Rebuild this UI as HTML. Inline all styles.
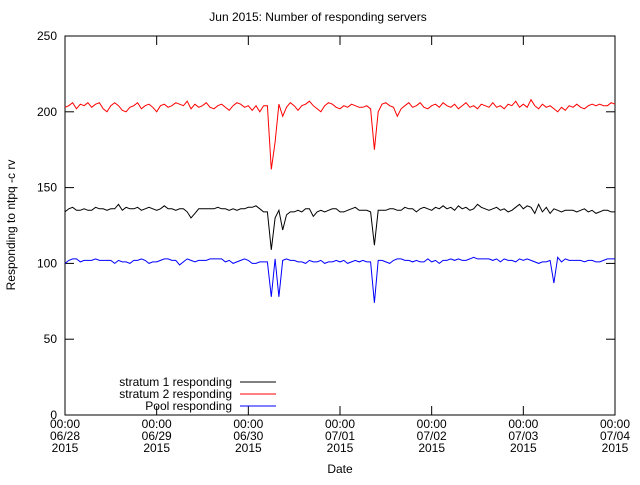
<!DOCTYPE html>
<html><head><meta charset="utf-8"><style>
body{margin:0;background:#fff}
svg text{font-family:"Liberation Sans",sans-serif;font-size:12px;fill:#000}
</style></head><body>
<svg width="640" height="480" xmlns="http://www.w3.org/2000/svg">
<g id="axes"></g>
<g id="series"></g>
<g id="legend"></g>
</svg>
<script>
const yTicks=[0,50,100,150,200,250];
const xTickLabels=[["00:00","06/28","2015"],["00:00","06/29","2015"],["00:00","06/30","2015"],["00:00","07/01","2015"],["00:00","07/02","2015"],["00:00","07/03","2015"],["00:00","07/04","2015"]];
const seriesNames=["stratum 1 responding","stratum 2 responding","Pool responding"];
const seriesColors=["#000","#f00","#00f"];
const stratum1=[134,136,137,135,135,136,135,135,137,136,136,135,136,136,139,135,137,136,136,137,135,136,137,136,
135,136,138,136,136,135,136,136,134,130,133,136,136,136,136,136,137,136,136,135,136,135,136,136,
137,137,138,136,134,134,109,130,135,122,132,134,134,135,134,136,136,131,134,135,134,135,136,136,
134,134,135,136,137,135,135,135,134,112,135,135,135,136,136,135,135,137,136,136,134,136,137,136,
135,137,136,138,136,137,135,138,136,137,135,136,139,137,136,135,136,137,135,136,134,135,137,139,
136,138,137,133,139,134,137,133,136,135,134,135,135,135,134,135,136,134,135,133,134,135,135,134,134];
const stratum2=[203,204,206,202,205,204,206,203,205,206,202,200,204,206,204,201,200,203,204,206,202,204,205,203,
200,204,205,203,204,206,205,204,207,202,205,203,204,206,203,202,204,205,203,201,204,206,205,203,
204,201,204,200,204,204,162,180,205,197,203,206,204,201,204,205,207,204,202,200,204,206,205,203,
202,204,203,205,204,203,203,204,202,175,200,205,206,204,203,197,202,204,206,203,204,206,203,202,
204,205,203,206,204,203,205,202,204,206,203,204,202,205,204,203,206,203,204,202,205,204,207,203,
205,203,208,204,202,205,203,204,202,200,203,201,204,203,205,203,202,204,205,204,205,204,204,206,205];
const pool=[100,102,103,103,101,102,102,102,103,102,102,102,102,100,102,101,101,100,102,102,103,102,100,101,
101,102,103,103,102,102,99,101,103,102,101,102,102,102,103,103,103,103,101,102,100,101,102,103,
102,100,100,101,101,101,78,103,78,102,103,102,102,101,101,100,102,101,101,102,100,101,101,102,
101,102,100,101,102,101,102,101,101,74,102,102,101,100,102,103,103,102,102,101,102,101,101,103,
101,102,100,102,102,103,102,103,102,102,103,104,103,103,103,103,102,103,101,103,102,102,101,103,
102,103,102,101,100,101,101,102,87,104,101,103,102,102,102,102,101,102,102,101,101,102,103,103,103];
const allSeries=[stratum1,stratum2,pool];

const NS="http://www.w3.org/2000/svg";
const L=65,R=615,T=36,B=415,maxH=144;
const xs=h=>L+(R-L)*h/maxH;
const ys=v=>B-(B-T)*v/250;
function mk(tag,attrs,parent,txt){const e=document.createElementNS(NS,tag);for(const k in attrs)e.setAttribute(k,attrs[k]);if(txt!==undefined)e.textContent=txt;parent.appendChild(e);return e;}
const ax=document.getElementById('axes');
let t=mk('text',{x:318,y:21,'text-anchor':'middle','font-size':'11px'},ax,'Jun 2015: Number of responding servers');


let fr=mk('rect',{x:L,y:T,width:R-L,height:B-T,fill:'none',stroke:'#000','stroke-width':1},ax);


yTicks.forEach(v=>{
  const y=ys(v);
  mk('line',{x1:L,x2:L+9,y1:y,y2:y,stroke:'#000'},ax);
  mk('line',{x1:R-9,x2:R,y1:y,y2:y,stroke:'#000'},ax);
  const tx=mk('text',{x:L-8,y:y+4,'text-anchor':'end'},ax,String(v));
  
  
});
xTickLabels.forEach((lab,i)=>{
  const x=xs(i*24);
  mk('line',{x1:x,x2:x,y1:B,y2:B-9,stroke:'#000'},ax);
  mk('line',{x1:x,x2:x,y1:T,y2:T+9,stroke:'#000'},ax);
  lab.forEach((s,j)=>{
    const tx=mk('text',{x:x,y:428+j*12,'text-anchor':'middle'},ax,s);
    
    
  });
});
t=mk('text',{x:340,y:473,'text-anchor':'middle'},ax,'Date');


t=mk('text',{x:0,y:0,'text-anchor':'middle',transform:'translate(15,225) rotate(-90)'},ax,'Responding to ntpq -c rv');


const sg=document.getElementById('series');
allSeries.forEach((arr,i)=>{
  const d=arr.map((v,h)=>(h?'L':'M')+xs(h).toFixed(1)+' '+ys(v).toFixed(1)).join('');
  const p=mk('path',{d:d,fill:'none',stroke:seriesColors[i],'stroke-width':1},sg);
  
  
});
const lg=document.getElementById('legend');
seriesNames.forEach((n,i)=>{
  const y=382+i*12;
  const tx=mk('text',{x:232,y:y+4,'text-anchor':'end','font-size':'13px'},lg,n);
  
  
  const ln=mk('line',{x1:240,x2:276,y1:y,y2:y,stroke:seriesColors[i]},lg);
  
  
});
</script>
</body></html>
